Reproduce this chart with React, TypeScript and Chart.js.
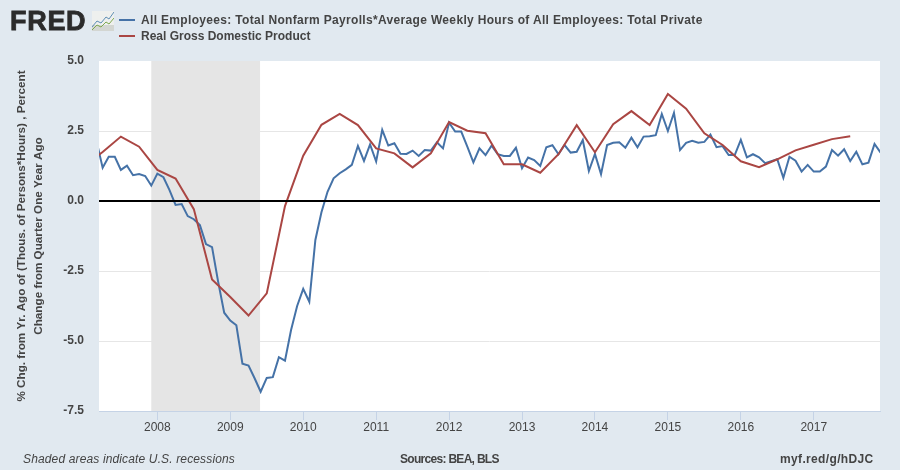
import React, { useEffect, useRef } from "react";
import { Chart, registerables } from "chart.js";

Chart.register(...registerables);

// Months counted from January 2008
const firstEmploymentMonth = -10;
const employment = [
  2.13, 1.19, 1.58, 1.58, 1.11, 1.26, 0.92, 0.96, 0.89, 0.55,
  0.98, 0.85, 0.39, -0.14, -0.11, -0.54, -0.65, -0.86, -1.54, -1.65, -2.88, -3.99,
  -4.27, -4.44, -5.81, -5.88, -6.33, -6.81, -6.32, -6.29, -5.58, -5.7, -4.61, -3.75,
  -3.14, -3.6, -1.39, -0.4, 0.33, 0.81, 0.99, 1.13, 1.29, 1.97, 1.43, 2.02,
  1.41, 2.54, 1.98, 2.06, 1.69, 1.68, 1.8, 1.61, 1.82, 1.8, 2.1, 1.88,
  2.8, 2.48, 2.48, 1.94, 1.38, 1.88, 1.64, 1.98, 1.67, 1.61, 1.61, 1.9,
  1.17, 1.55, 1.46, 1.25, 1.92, 1.99, 1.67, 2.0, 1.73, 1.76, 2.18, 1.07,
  1.68, 0.96, 2.0, 2.08, 2.1, 1.9, 2.26, 1.92, 2.3, 2.31, 2.35, 3.11,
  2.5, 3.15, 1.82, 2.08, 2.15, 2.08, 2.11, 2.37, 1.92, 1.96, 1.64, 1.64,
  2.18, 1.56, 1.67, 1.56, 1.35, 1.42, 1.49, 0.83, 1.58, 1.44, 1.05, 1.29,
  1.05, 1.05, 1.23, 1.82, 1.62, 1.85, 1.43, 1.76, 1.31, 1.37, 2.04, 1.73,
];
const firstGdpMonth = -12;
const gdpStep = 3;
const gdp = [
  1.25, 1.75, 2.3, 1.94,
  1.11, 0.8, -0.29, -2.8,
  -3.43, -4.09, -3.3, -0.18,
  1.62, 2.72, 3.11, 2.71,
  1.88, 1.7, 1.2, 1.7,
  2.82, 2.51, 2.42, 1.31,
  1.31, 1.01, 1.67, 2.71,
  1.74, 2.74, 3.21, 2.71,
  3.82, 3.3, 2.42, 2.0,
  1.42, 1.21, 1.49, 1.81,
  2.01, 2.21, 2.31,
];
const yearTickMonths = [0, 12, 24, 36, 48, 60, 72, 84, 96, 108];
const yearTickLabels = ["2008", "2009", "2010", "2011", "2012", "2013", "2014", "2015", "2016", "2017"];
const recession = [-1, 16.9];
const xRange = [-9.6, 118.9];
const yRange = [-7.5, 5];

const employmentName = "All Employees: Total Nonfarm Payrolls*Average Weekly Hours of All Employees: Total Private";
const gdpName = "Real Gross Domestic Product";
const yTitle = ["% Chg. from Yr. Ago of (Thous. of Persons*Hours) , Percent", "Change from Quarter One Year Ago"];

const BLUE = "#4572a7";
const RED = "#aa4643";
const BG = "#e1e9f0";
const TEXT = "#444444";
const AXIS = "#c5d3e6";
const FONT = '"Liberation Sans", Arial, sans-serif';

const overlays = {
  id: "overlays",
  beforeDraw(chart: any) {
    const { ctx, chartArea } = chart;
    ctx.save();
    ctx.fillStyle = "#ffffff";
    ctx.fillRect(chartArea.left, chartArea.top, chartArea.right - chartArea.left, chartArea.bottom - chartArea.top);
    ctx.restore();
  },
  beforeDatasetsDraw(chart: any) {
    const { ctx, chartArea, scales } = chart;
    ctx.save();
    ctx.fillStyle = "#e5e5e5";
    const a = scales.x.getPixelForValue(recession[0]);
    const b = scales.x.getPixelForValue(recession[1]);
    ctx.fillRect(a, chartArea.top, b - a, chartArea.bottom - chartArea.top);
    ctx.restore();
  },
  afterDatasetsDraw(chart: any) {
    const { ctx, chartArea, scales } = chart;
    const y = scales.y.getPixelForValue(0);
    ctx.save();
    ctx.strokeStyle = "#000000";
    ctx.lineWidth = 2;
    ctx.beginPath();
    ctx.moveTo(chartArea.left, y);
    ctx.lineTo(chartArea.right, y);
    ctx.stroke();
    ctx.restore();
  },
};

const abs = (left: number, top: number, extra: any = {}): any => ({
  position: "absolute",
  left,
  top,
  whiteSpace: "nowrap",
  fontFamily: FONT,
  color: TEXT,
  ...extra,
});

export default function App() {
  const ref = useRef<HTMLCanvasElement>(null);
  useEffect(() => {
    document.body.style.margin = "0";
    document.body.style.background = BG;
    const chart = new Chart(ref.current!, {
      type: "line",
      data: {
        datasets: [
          {
            label: employmentName,
            data: employment.map((v, i) => ({ x: firstEmploymentMonth + i, y: v })),
            borderColor: BLUE,
            borderWidth: 2,
            pointRadius: 0,
            tension: 0,
            order: 1,
          },
          {
            label: gdpName,
            data: gdp.map((v, i) => ({ x: firstGdpMonth + i * gdpStep, y: v })),
            borderColor: RED,
            borderWidth: 2,
            pointRadius: 0,
            tension: 0,
            order: 0,
          },
        ],
      },
      options: {
        responsive: false,
        animation: false,
        parsing: false,
        layout: { padding: { top: 61, left: 0, right: 20, bottom: 0 } },
        plugins: { legend: { display: false }, title: { display: false }, tooltip: { enabled: false } },
        scales: {
          x: {
            type: "linear",
            min: xRange[0],
            max: xRange[1],
            afterBuildTicks(scale: any) {
              scale.ticks = yearTickMonths.map((value) => ({ value }));
            },
            afterFit(scale: any) {
              scale.height = 59;
            },
            ticks: {
              autoSkip: false,
              maxRotation: 0,
              padding: 0,
              color: TEXT,
              font: { family: FONT, size: 12, weight: "normal" },
              callback: (value: any) => yearTickLabels[yearTickMonths.indexOf(value)] ?? "",
            },
            grid: { drawOnChartArea: false, drawTicks: true, tickLength: 9, color: AXIS, tickColor: AXIS },
            border: { display: true, color: AXIS, width: 1 },
          },
          y: {
            type: "linear",
            min: yRange[0],
            max: yRange[1],
            afterFit(scale: any) {
              scale.width = 99;
            },
            ticks: {
              stepSize: 2.5,
              padding: 15,
              color: TEXT,
              font: { family: FONT, size: 12, weight: "bold" },
              callback: (value: any) => Number(value).toFixed(1),
            },
            grid: {
              drawTicks: false,
              lineWidth: 1,
              color: (c: any) => (c.tick.value === 5 || c.tick.value === 0 || c.tick.value === -7.5 ? "rgba(0,0,0,0)" : "#e6e6e6"),
            },
            border: { display: false },
            title: {
              display: true,
              text: yTitle,
              color: TEXT,
              padding: { top: 13, bottom: 0 },
              font: { family: FONT, size: 11.7, weight: "bold", lineHeight: "17px" },
            },
          },
        },
      },
      plugins: [overlays],
    } as any);
    return () => chart.destroy();
  }, []);

  return (
    <div style={{ position: "absolute", left: 0, top: 0, width: 900, height: 470, background: BG, overflow: "hidden" }}>
      <canvas ref={ref} width={900} height={470} style={{ position: "absolute", left: 0, top: 0, display: "block" }} />
      <div style={abs(10, 6, { fontSize: 27, fontWeight: 700, color: "#2b2b2b", letterSpacing: 0.7, WebkitTextStroke: "0.8px #2b2b2b", lineHeight: "30px" })}>FRED</div>
      <svg width="22" height="20" style={{ position: "absolute", left: 92, top: 11 }} viewBox="0 0 22 20">
        <rect width="22" height="20" fill="#eef0ee" />
        <rect y="14" width="22" height="6" fill="#d3d6d2" />
        <polyline points="0,16 5,10 9,12 14,6 17,8 22,1" fill="none" stroke="#5f8fb5" strokeWidth="1" />
        <polyline points="0,19 5,14 9,16 14,11 17,13 22,7" fill="none" stroke="#7da84f" strokeWidth="1" />
      </svg>
      <svg width="20" height="40" style={{ position: "absolute", left: 118, top: 10 }}>
        <line x1="1" x2="17" y1="10" y2="10" stroke={BLUE} strokeWidth="2" />
        <line x1="1" x2="17" y1="26" y2="26" stroke={RED} strokeWidth="2" />
      </svg>
      <div style={abs(141, 13, { fontSize: 12, letterSpacing: 0.33, fontWeight: 700, lineHeight: "14px" })}>{employmentName}</div>
      <div style={abs(141, 29, { fontSize: 12, fontWeight: 700, lineHeight: "14px" })}>{gdpName}</div>
      <div style={abs(23, 452, { fontSize: 12, letterSpacing: 0.14, fontStyle: "italic", lineHeight: "14px" })}>Shaded areas indicate U.S. recessions</div>
      <div style={abs(400, 452, { fontSize: 12, letterSpacing: -0.7, fontWeight: 700, lineHeight: "14px" })}>Sources: BEA, BLS</div>
      <div style={abs(780, 452, { fontSize: 12, letterSpacing: 0.35, fontWeight: 700, lineHeight: "14px" })}>myf.red/g/hDJC</div>
    </div>
  );
}
